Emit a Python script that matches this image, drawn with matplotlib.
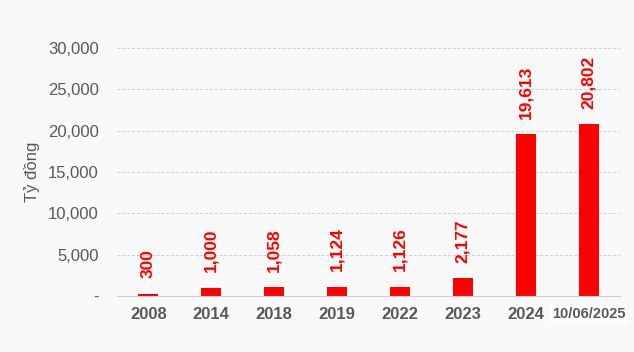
import matplotlib.pyplot as plt
from matplotlib.ticker import FuncFormatter

plt.rcParams['font.family'] = ['Liberation Sans', 'DejaVu Sans']

# data
years = ["2008", "2014", "2018", "2019", "2022", "2023", "2024", "10/06/2025"]
values = [300, 1000, 1058, 1124, 1126, 2177, 19613, 20802]

bg = '#f9f9f9'
fig = plt.figure(figsize=(6.34, 3.52), dpi=100, facecolor=bg)
ax = fig.add_axes([0.1845, 0.159, 0.7935, 0.705], facecolor=bg)

x = range(len(years))
bars = ax.bar(x, values, width=0.32, color='#ff0000', zorder=3)

for xi, v in zip(x, values):
    ax.annotate(f"{v:,}", (xi, v), xytext=(0, 11), textcoords='offset points',
                rotation=90, ha='center', va='bottom', color='#ff0000',
                fontsize=12.5, fontweight='bold')

ax.set_ylim(0, 30000)
ax.set_xlim(-0.5, len(years) - 0.5)
ax.set_yticks(range(0, 30001, 5000))
ax.yaxis.set_major_formatter(FuncFormatter(lambda v, p: "-" if v == 0 else f"{int(v):,}"))
ax.grid(axis='y', color='#d0d0d0', linestyle=(0, (3, 2)), linewidth=0.7, zorder=0)

ax.set_xticks(list(x))
ax.set_xticklabels(years, fontsize=12, fontweight='bold', color='#595959')
last = ax.get_xticklabels()[-1]
last.set_fontsize(10.5)
last.set_bbox(dict(facecolor='white', edgecolor='none', pad=1.5))

ax.tick_params(axis='y', length=0, labelsize=12, labelcolor='#595959', pad=13)
ax.tick_params(axis='x', length=0, pad=8)

for s in ['top', 'right', 'left']:
    ax.spines[s].set_visible(False)
ax.spines['bottom'].set_color('#d0d0d0')
ax.spines['bottom'].set_zorder(4)

ax.set_ylabel("Tỷ đồng", fontsize=12, color='#595959', labelpad=6)

fig.savefig('out.png', dpi=100, facecolor=bg)
